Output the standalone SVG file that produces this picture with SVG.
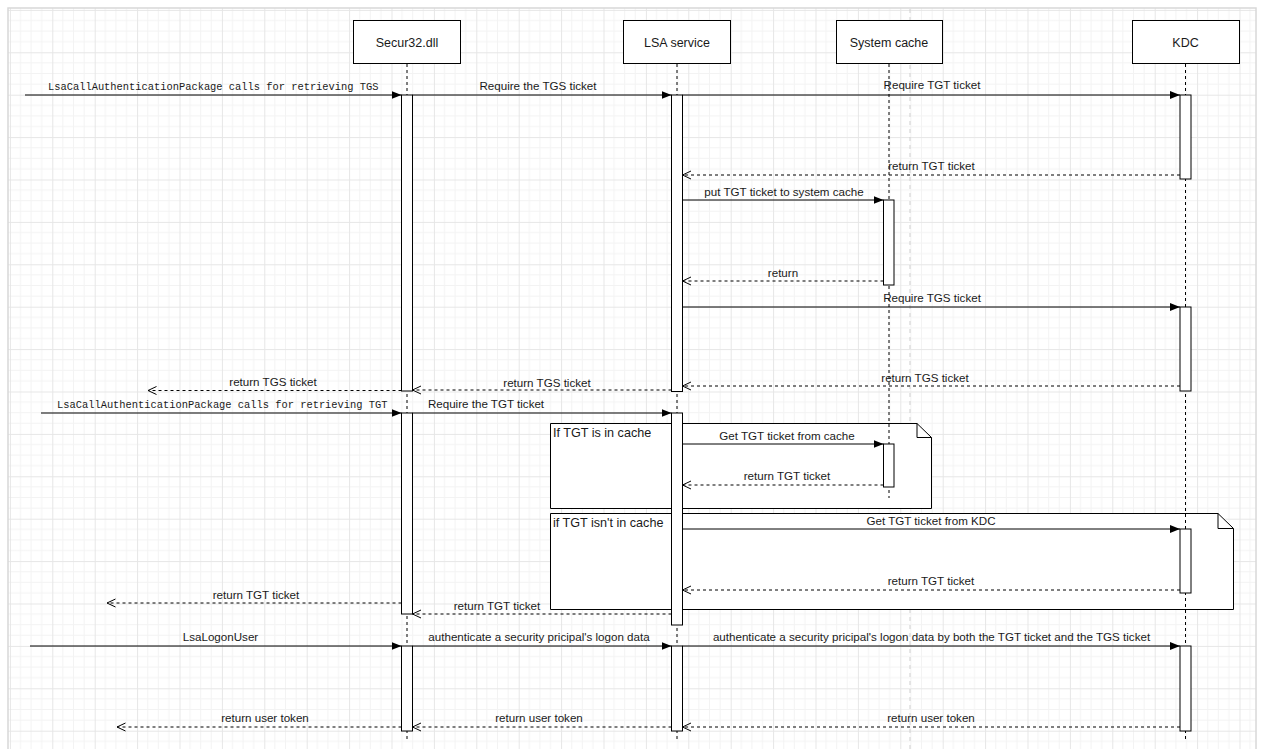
<svg xmlns="http://www.w3.org/2000/svg" width="1261" height="749" viewBox="0 0 1261 749">
<defs>
<pattern id="grid" x="9.9" y="9.9" width="42.4" height="42.4" patternUnits="userSpaceOnUse">
<path d="M10.6,0V42.4M21.2,0V42.4M31.8,0V42.4M0,10.6H42.4M0,21.2H42.4M0,31.8H42.4" stroke="#f3f3f3" stroke-width="1" fill="none"/>
<path d="M0.5,0V42.4M0,0.5H42.4" stroke="#e6e6e6" stroke-width="1" fill="none"/>
</pattern>
<marker id="block" markerWidth="10" markerHeight="8" refX="10" refY="4" orient="auto" markerUnits="userSpaceOnUse">
<path d="M0,0L10,4L0,8z" fill="#000"/>
</marker>
<marker id="open" markerWidth="11" markerHeight="10" refX="9.5" refY="5" orient="auto" markerUnits="userSpaceOnUse">
<path d="M1,1L9.5,5L1,9" fill="none" stroke="#000" stroke-width="1"/>
</marker>
<style>
.lbl{font-family:"Liberation Sans",Arial,sans-serif;font-size:11.6px;fill:#1a1a1a;text-anchor:middle}
.mono{font-family:"Liberation Mono","DejaVu Sans Mono",monospace;font-size:10.4px;fill:#1a1a1a;text-anchor:start}
.hdr{font-family:"Liberation Sans",Arial,sans-serif;font-size:12.5px;fill:#1a1a1a;text-anchor:middle}
.nt{font-family:"Liberation Sans",Arial,sans-serif;font-size:12.6px;fill:#1a1a1a;text-anchor:start}
.box{fill:#fff;stroke:#000;stroke-width:1}
.life{stroke:#000;stroke-width:1;stroke-dasharray:3 3;fill:none}
.act{fill:#fff;stroke:#000;stroke-width:1}
.msg{stroke:#000;stroke-width:1;fill:none;marker-end:url(#block)}
.ret{stroke:#000;stroke-width:1;fill:none;stroke-dasharray:3 3;marker-end:url(#open)}
.note{fill:#fff;stroke:#000;stroke-width:1}
</style>
</defs>
<rect x="0" y="0" width="1261" height="749" fill="#fff"/>
<rect x="8" y="8" width="1248" height="745" fill="url(#grid)" stroke="#d8d8d8" stroke-width="1.5"/>
<line x1="910" y1="9" x2="910" y2="749" stroke="#cfcfcf" stroke-width="1" stroke-dasharray="4 4"/>

<g id="fragment-cache">
<path class="note" d="M550.5,423.5H917L931.5,437.5V508.5H550.5Z"/>
<path d="M917,423.5V437.5H931.5" fill="none" stroke="#000" stroke-width="1"/>
<text class="nt" x="553" y="437">If TGT is in cache</text>
</g>
<g id="fragment-kdc">
<path class="note" d="M550.5,513.5H1218L1233.5,528.5V609.5H550.5Z"/>
<path d="M1218,513.5V528.5H1233.5" fill="none" stroke="#000" stroke-width="1"/>
<text class="nt" x="553" y="527">if TGT isn't in cache</text>
</g>

<g id="secur32">
<rect class="box" x="353.5" y="20.5" width="107" height="43"/>
<text class="hdr" x="407" y="47">Secur32.dll</text>
<line class="life" x1="407" y1="64" x2="407" y2="740"/>
<rect class="act" x="401.5" y="95" width="11" height="296"/>
<rect class="act" x="401.5" y="413" width="11" height="201"/>
<rect class="act" x="401.5" y="646" width="11" height="85"/>
</g>
<g id="lsa">
<rect class="box" x="623.5" y="20.5" width="107" height="43"/>
<text class="hdr" x="677" y="47">LSA service</text>
<line class="life" x1="677" y1="64" x2="677" y2="740"/>
<rect class="act" x="671.5" y="95" width="11" height="296.5"/>
<rect class="act" x="671.5" y="413" width="11" height="212"/>
<rect class="act" x="671.5" y="646" width="11" height="85"/>
</g>
<g id="cache">
<rect class="box" x="836.5" y="20.5" width="106" height="43"/>
<text class="hdr" x="889" y="47">System cache</text>
<line class="life" x1="889" y1="64" x2="889" y2="498"/>
<rect class="act" x="883.5" y="200" width="10.5" height="85"/>
<rect class="act" x="883.5" y="444" width="10.5" height="43"/>
</g>
<g id="kdc">
<rect class="box" x="1132.5" y="20.5" width="107" height="43"/>
<text class="hdr" x="1185.5" y="47">KDC</text>
<line class="life" x1="1185.5" y1="64" x2="1185.5" y2="740"/>
<rect class="act" x="1180" y="95" width="11" height="84"/>
<rect class="act" x="1180" y="307" width="11" height="84"/>
<rect class="act" x="1180" y="529" width="11" height="64"/>
<rect class="act" x="1180" y="646" width="11" height="85"/>
</g>

<g id="connectors">
<line class="msg" x1="25" y1="95" x2="401.5" y2="95"/>
<line class="msg" x1="412.5" y1="95" x2="671.5" y2="95"/>
<line class="msg" x1="682.5" y1="95" x2="1180" y2="95"/>
<line class="ret" x1="1180" y1="175" x2="682.5" y2="175"/>
<line class="msg" x1="682.5" y1="200" x2="883.5" y2="200"/>
<line class="ret" x1="883.5" y1="281" x2="682.5" y2="281"/>
<line class="msg" x1="682.5" y1="307" x2="1180" y2="307"/>
<line class="ret" x1="1180" y1="386" x2="682.5" y2="386"/>
<line class="ret" x1="671.5" y1="390" x2="412.5" y2="390"/>
<line class="ret" x1="401.5" y1="390.5" x2="148" y2="390.5"/>
<line class="msg" x1="41" y1="413" x2="401.5" y2="413"/>
<line class="msg" x1="412.5" y1="413" x2="671.5" y2="413"/>
<line class="msg" x1="682.5" y1="444" x2="883.5" y2="444"/>
<line class="ret" x1="883.5" y1="485" x2="682.5" y2="485"/>
<line class="msg" x1="682.5" y1="529" x2="1180" y2="529"/>
<line class="ret" x1="1180" y1="590" x2="682.5" y2="590"/>
<line class="ret" x1="671.5" y1="614" x2="412.5" y2="614"/>
<line class="ret" x1="401.5" y1="603" x2="107" y2="603"/>
<line class="msg" x1="30" y1="646" x2="401.5" y2="646"/>
<line class="msg" x1="412.5" y1="646" x2="671.5" y2="646"/>
<line class="msg" x1="682.5" y1="646" x2="1180" y2="646"/>
<line class="ret" x1="1180" y1="727" x2="682.5" y2="727"/>
<line class="ret" x1="671.5" y1="727" x2="412.5" y2="727"/>
<line class="ret" x1="401.5" y1="727" x2="117" y2="727"/>

<text class="mono" x="48" y="90">LsaCallAuthenticationPackage calls for retrieving TGS</text>
<text class="lbl" x="538" y="90">Require the TGS ticket</text>
<text class="lbl" x="932" y="89">Require TGT ticket</text>
<text class="lbl" x="931.5" y="170">return TGT ticket</text>
<text class="lbl" x="784" y="196">put TGT ticket to system cache</text>
<text class="lbl" x="783" y="276.5">return</text>
<text class="lbl" x="932" y="302">Require TGS ticket</text>
<text class="lbl" x="925" y="382">return TGS ticket</text>
<text class="lbl" x="547" y="387">return TGS ticket</text>
<text class="lbl" x="273" y="386">return TGS ticket</text>
<text class="mono" x="57" y="408">LsaCallAuthenticationPackage calls for retrieving TGT</text>
<text class="lbl" x="486" y="408">Require the TGT ticket</text>
<text class="lbl" x="787" y="440">Get TGT ticket from cache</text>
<text class="lbl" x="787" y="480">return TGT ticket</text>
<text class="lbl" x="931" y="525">Get TGT ticket from KDC</text>
<text class="lbl" x="931" y="585">return TGT ticket</text>
<text class="lbl" x="497" y="610">return TGT ticket</text>
<text class="lbl" x="256" y="599">return TGT ticket</text>
<text class="lbl" x="220.5" y="641">LsaLogonUser</text>
<text class="lbl" x="539" y="641">authenticate a security pricipal's logon data</text>
<text class="lbl" x="931.5" y="641">authenticate a security pricipal's logon data by both the TGT ticket and the TGS ticket</text>
<text class="lbl" x="931" y="722">return user token</text>
<text class="lbl" x="539" y="722">return user token</text>
<text class="lbl" x="265" y="722">return user token</text>
</g>
</svg>
